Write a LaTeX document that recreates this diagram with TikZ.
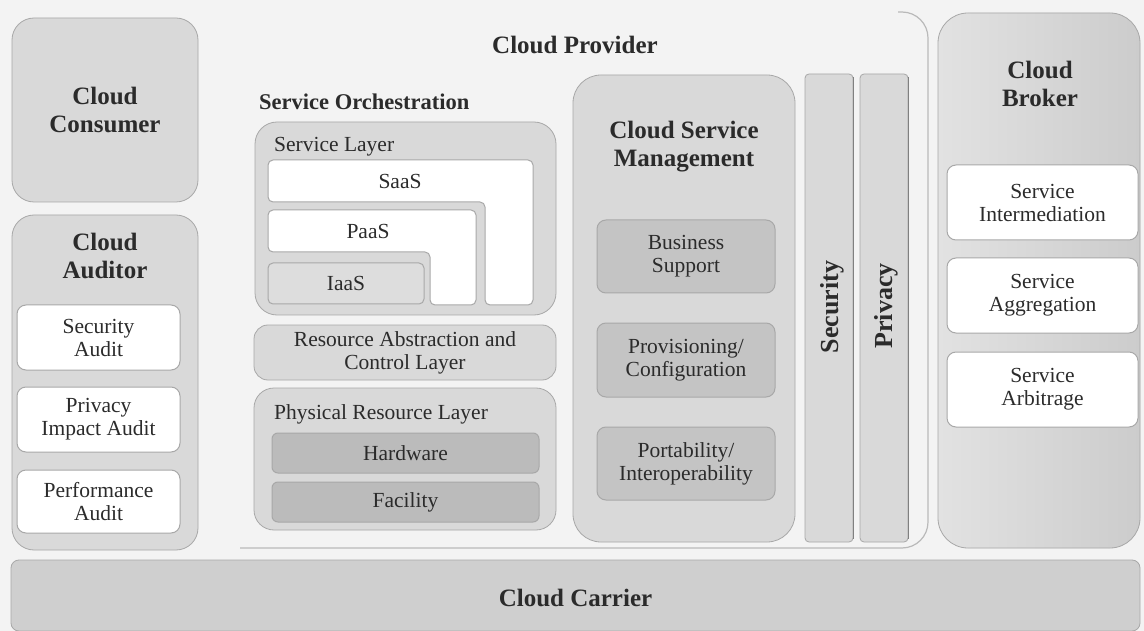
\documentclass[tikz,border=0pt]{standalone}
\usepackage{fontspec}
\setmainfont{Liberation Serif}
\definecolor{bg}{HTML}{F3F3F3}
\definecolor{boxg}{HTML}{D9D9D9}
\definecolor{edgeg}{HTML}{A8A8A8}
\definecolor{shadeg}{HTML}{808080}
\definecolor{midg}{HTML}{C4C4C4}
\definecolor{darkg}{HTML}{BBBBBB}
\definecolor{iaasg}{HTML}{DDDDDD}
\definecolor{txt}{HTML}{2B2B2B}
\definecolor{carg}{HTML}{CFCFCF}
\definecolor{brkl}{HTML}{E2E2E2}
\definecolor{brkr}{HTML}{CCCCCC}
\newcommand{\smallfont}{\fontsize{21.5}{23}\selectfont}
\newcommand{\titlefont}{\fontsize{25}{28}\selectfont\bfseries}
\tikzset{
  bigbox/.style={draw=edgeg, line width=0.8pt, fill=boxg, rounded corners=22pt, inner sep=0pt},
  whitebox/.style={draw=edgeg, line width=1pt, fill=white, rounded corners=9pt, inner sep=0pt, text=txt, align=center, font=\smallfont},
  darkbox/.style={draw=edgeg, line width=1pt, fill=midg, rounded corners=9pt, inner sep=0pt, text=txt, align=center, font=\smallfont},
  layerbox/.style={draw=edgeg, line width=0.8pt, fill=boxg, rounded corners=14pt, inner sep=0pt, text=txt, align=center, font=\smallfont},
  column/.style={draw=edgeg, line width=0.8pt, fill=boxg, rounded corners=4pt, inner sep=0pt},
  title/.style={text=txt, align=center, font=\titlefont, inner sep=0pt},
  lbl/.style={text=txt, font=\smallfont, inner sep=0pt, anchor=west},
  lshape/.style={draw=edgeg, line width=1pt, fill=white, rounded corners=5pt},
  edgeline/.style={draw=shadeg, line width=1.6pt},
}
\begin{document}
\begin{tikzpicture}[x=1pt,y=-1pt]
\fill[bg] (0,0) rectangle (1144,631);
\useasboundingbox (0,0) rectangle (1144,631);

% Cloud Provider outline (visible part)
\draw[gray!55, line width=1.2pt, rounded corners=26pt] (898,12) -- (928,12) -- (928,548) -- (240,548);
\node[title] (prov) at (575,45) {Cloud Provider};

% Cloud Consumer
\node[bigbox, minimum width=186pt, minimum height=184pt, text=txt, align=center, font=\titlefont] (cons) at (105,110) {Cloud\\Consumer};

% Cloud Auditor
\node[bigbox, minimum width=186pt, minimum height=335pt] (aud) at (105,382.5) {};
\node[title] (audt) at (105,256) {Cloud\\Auditor};
\node[whitebox, minimum width=163pt, minimum height=65pt] (secaud) at (98.5,337.5) {Security\\Audit};
\node[whitebox, minimum width=163pt, minimum height=65pt] (privaud) at (98.5,419.5) {Privacy\\Impact Audit};
\node[whitebox, minimum width=163pt, minimum height=63pt] (perfaud) at (98.5,501.5) {Performance\\Audit};

% Service Orchestration
\node[text=txt, font=\fontsize{22.5}{26}\selectfont\bfseries, inner sep=0pt, anchor=west] (orch) at (259,102) {Service Orchestration};

% Service Layer
\node[layerbox, rounded corners=22pt, minimum width=301pt, minimum height=193pt] (sl) at (405.5,218.5) {};
\node[lbl] (slt) at (274,147) {Service Layer};
\draw[lshape] (268,160) -- (533,160) -- (533,305) -- (485,305) -- (485,202) -- (268,202) -- cycle;
\node[text=txt, font=\smallfont, inner sep=0pt] (saas) at (400,181) {SaaS};
\draw[lshape] (268,210) -- (476,210) -- (476,305) -- (430,305) -- (430,252) -- (268,252) -- cycle;
\node[text=txt, font=\smallfont, inner sep=0pt] (paas) at (368,231) {PaaS};
\node[draw=edgeg, line width=1pt, fill=iaasg, rounded corners=5pt, minimum width=156pt, minimum height=41pt, text=txt, font=\smallfont, inner sep=0pt] (iaas) at (346,283.5) {IaaS};

% Resource Abstraction
\node[layerbox, minimum width=302pt, minimum height=55pt] (rac) at (405,352.5) {Resource Abstraction and\\Control Layer};

% Physical Resource Layer
\node[layerbox, rounded corners=20pt, minimum width=302pt, minimum height=142pt] (phys) at (405,459) {};
\node[lbl] (physt) at (274,414) {Physical Resource Layer};
\node[darkbox, fill=darkg, rounded corners=6pt, minimum width=267pt, minimum height=40pt] (hw) at (405.5,453) {Hardware};
\node[darkbox, fill=darkg, rounded corners=6pt, minimum width=267pt, minimum height=40pt] (fac) at (405.5,502) {Facility};

% Cloud Service Management
\node[bigbox, rounded corners=28pt, minimum width=222pt, minimum height=467pt] (csm) at (684,308.5) {};
\node[title] (csmt) at (684,147) {Cloud Service\\Management};
\node[darkbox, minimum width=178pt, minimum height=73pt] (bus) at (686,256.5) {Business\\Support};
\node[darkbox, minimum width=178pt, minimum height=74pt] (provc) at (686,360) {Provisioning/\\Configuration};
\node[darkbox, minimum width=178pt, minimum height=73pt] (port) at (686,463.5) {Portability/\\Interoperability};

% Security and Privacy columns
\node[column, minimum width=48pt, minimum height=468pt] (sec) at (829,308) {};
\draw[edgeline] ([yshift=-3pt]sec.north east) -- ([yshift=3pt]sec.south east);
\node[title, font=\fontsize{26}{28}\selectfont\bfseries, rotate=90] (sect) at (832,307) {Security};
\node[column, minimum width=48pt, minimum height=468pt] (priv) at (884,308) {};
\draw[edgeline] ([yshift=-3pt]priv.north east) -- ([yshift=3pt]priv.south east);
\node[title, font=\fontsize{26}{28}\selectfont\bfseries, rotate=90] (privt) at (886,306) {Privacy};

% Cloud Broker
\node[bigbox, rounded corners=30pt, left color=brkl, right color=brkr, minimum width=202pt, minimum height=535pt] (brk) at (1039,280.5) {};
\node[title] (brkt) at (1040,84) {Cloud\\Broker};
\node[whitebox, minimum width=191pt, minimum height=75pt] (inter) at (1042.5,202.5) {Service\\Intermediation};
\node[whitebox, minimum width=191pt, minimum height=75pt] (aggr) at (1042.5,295.5) {Service\\Aggregation};
\node[whitebox, minimum width=191pt, minimum height=75pt] (arb) at (1042.5,389.5) {Service\\Arbitrage};

% Cloud Carrier
\node[draw=edgeg, line width=0.8pt, fill=carg, rounded corners=8pt, minimum width=1129pt, minimum height=71pt, inner sep=0pt] (car) at (575.5,595.5) {};
\node[title] (cart) at (575.5,598) {Cloud Carrier};
\end{tikzpicture}
\end{document}
